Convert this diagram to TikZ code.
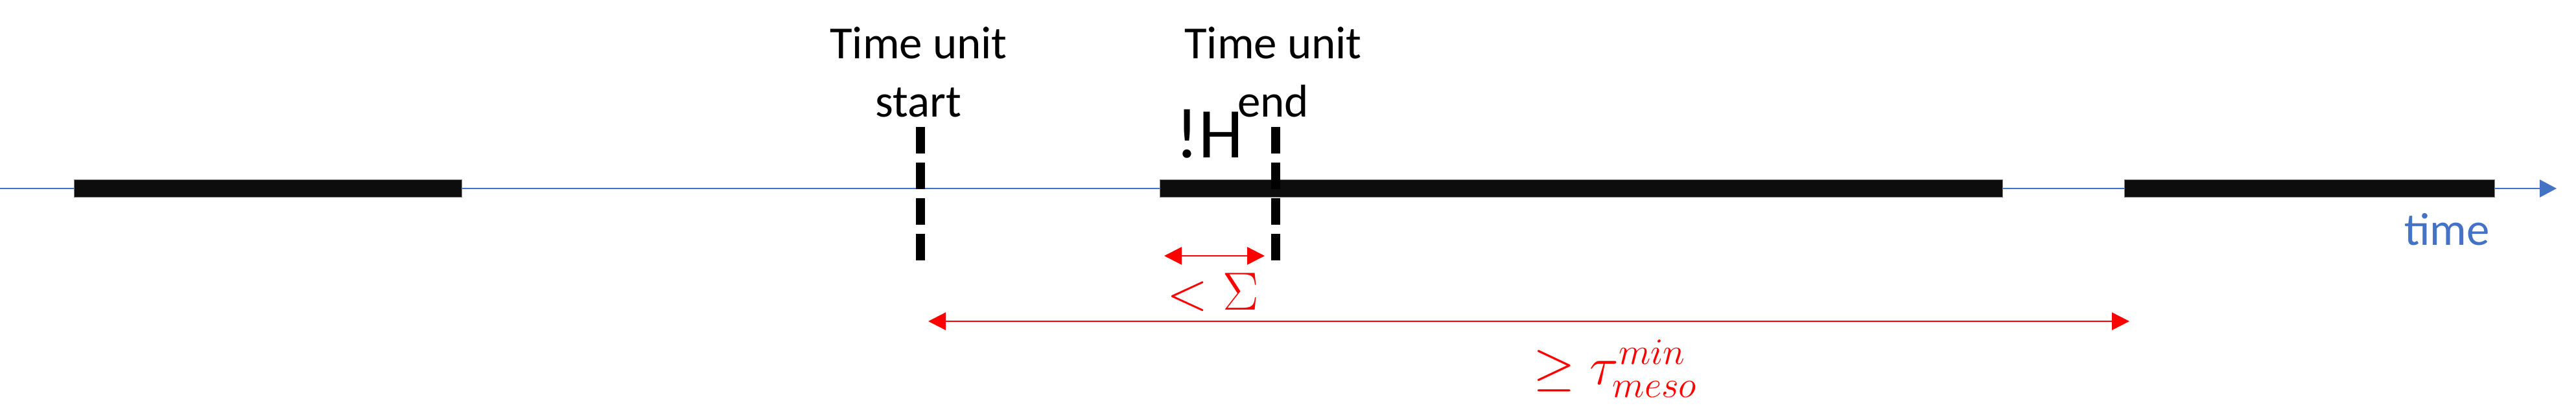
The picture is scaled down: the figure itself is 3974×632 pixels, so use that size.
\documentclass[tikz,border=0pt]{standalone}
\usepackage[no-math]{fontspec}
\setmainfont{Carlito}
\usetikzlibrary{arrows.meta}
\definecolor{axisblue}{HTML}{4472C4}
\definecolor{barblack}{HTML}{0D0D0D}
\definecolor{bargray}{HTML}{808080}
\definecolor{mred}{HTML}{FF0000}
\tikzset{
  axisline/.style={draw=axisblue, line width=0.625pt, -{Triangle[length=6.5pt,width=6.75pt]}},
  barbox/.style={fill=barblack, draw=bargray, line width=0.25pt},
  markline/.style={draw=black, line width=3.5pt, dash pattern=on 10.25pt off 3.5pt},
  spanarrow/.style={draw=mred, line width=0.6pt, {Triangle[length=6.75pt,width=6.75pt]}-{Triangle[length=6.75pt,width=6.75pt]}},
  lbl/.style={inner sep=0pt, font=\fontsize{17.75pt}{22.2pt}\selectfont},
  mlbl/.style={inner sep=0pt, text=mred, font=\fontsize{20pt}{24pt}\selectfont},
}
\begin{document}
\begin{tikzpicture}[x=0.25pt,y=-0.25pt]
\useasboundingbox (0,0) rectangle (3974,632);
% time axis
\coordinate (axL) at (0,291);
\coordinate (axR) at (3944,291);
\draw[axisline] (axL) -- (axR);
% activity bars
\draw[barbox] (114,277) rectangle (712,304);
\draw[barbox] (1789,277) rectangle (3089,304);
\draw[barbox] (3277,277) rectangle (3848,304);
% time unit boundaries
\coordinate (sT) at (1420,196);
\coordinate (sB) at (1420,402);
\coordinate (eT) at (1968,196);
\coordinate (eB) at (1968,402);
\draw[markline] (sT) -- (sB);
\draw[markline] (eT) -- (eB);
% labels
\node[lbl, anchor=base] (tu1) at (1417,91) {Time unit};
\node[lbl, anchor=base] (st) at (1417,180) {start};
\node[lbl, anchor=base] (tu2) at (1964,91) {Time unit};
\node[lbl, anchor=base] (en) at (1964,180) {end};
\node[inner sep=0pt, anchor=base, font=\fontsize{27.5pt}{33pt}\selectfont] (hh) at (1866,243) {!H};
\node[lbl, anchor=base, text=axisblue] (tm) at (3775,378) {time};
% spans
\coordinate (a1L) at (1796,395);
\coordinate (a1R) at (1951,395);
\draw[spanarrow] (a1L) -- (a1R);
\node[mlbl, anchor=base] (lt) at (1871,478) {$<\Sigma$};
\coordinate (a2L) at (1432,496);
\coordinate (a2R) at (3285,496);
\draw[spanarrow] (a2L) -- (a2R);
\node[mlbl, anchor=base] (ge) at (2492,593) {$\geq\tau_{meso}^{min}$};
\end{tikzpicture}
\end{document}
